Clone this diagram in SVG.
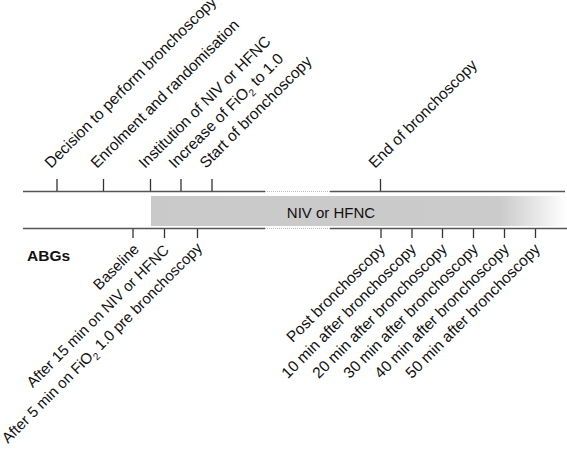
<svg xmlns="http://www.w3.org/2000/svg" width="567" height="453" viewBox="0 0 567 453">
<style>
.lbl{font-family:"Liberation Sans",Arial,sans-serif;font-size:15.5px;fill:#111}
.sm{font-size:15px}
.end{text-anchor:end}
.axis{stroke:#555;stroke-width:1.6;fill:none}
.tick{stroke:#333;stroke-width:1.3}
.gap{stroke:#bbb;stroke-width:1.2;stroke-dasharray:1 1}
.sub{font-size:10px}
</style>
<defs>
<linearGradient id="fade" x1="151" y1="0" x2="567" y2="0" gradientUnits="userSpaceOnUse">
<stop offset="0" stop-color="#c9c9c9"/>
<stop offset="0.84" stop-color="#cbcbcb"/>
<stop offset="1" stop-color="#ffffff"/>
</linearGradient>
</defs>
<rect width="567" height="453" fill="#fff"/>
<g id="bar">
<rect x="151" y="196" width="416" height="30" fill="url(#fade)"/>
<text class="lbl sm" x="331" y="218" text-anchor="middle">NIV or HFNC</text>
</g>
<g id="connectors">
<path class="axis" d="M23 191.5H265M330 191.5H565"/>
<path class="gap" d="M265 191.5H330"/>
<path class="axis" d="M23 228.5H265M330 228.5H567"/>
<path class="gap" d="M265 228.5H330"/>
<path class="tick" d="M57 179V191M103.5 179V191M150.5 179V191M181 179V191M212 179V191M380.5 179V191"/>
<path class="tick" d="M133 229V238M164.5 229V238M197.5 229V238M381 229V238M412 229V238M442.5 229V238M473.5 229V238M504.5 229V238M535.5 229V238"/>
</g>
<g id="top-labels">
<text id="t1" class="lbl" transform="translate(51,169) rotate(-45)">Decision to perform bronchoscopy</text>
<text id="t2" class="lbl" transform="translate(97,169) rotate(-45)">Enrolment and randomisation</text>
<text id="t3" class="lbl" transform="translate(145,169) rotate(-45)">Institution of NIV or HFNC</text>
<text id="t4" class="lbl" transform="translate(175,169) rotate(-45)">Increase of FiO<tspan class="sub" dy="4">2</tspan><tspan dy="-4"> to 1.0</tspan></text>
<text id="t5" class="lbl" transform="translate(206,169) rotate(-45)">Start of bronchoscopy</text>
<text id="t6" class="lbl" transform="translate(375,169) rotate(-45)">End of bronchoscopy</text>
</g>
<g id="abg-labels">
<text id="abgs" class="lbl" x="27" y="261" font-weight="bold" font-size="16">ABGs</text>
<text id="b1" class="lbl sm end" transform="translate(140,250) rotate(-45)">Baseline</text>
<text id="b2" class="lbl sm end" transform="translate(170,251) rotate(-45)">After 15 min on NIV or HFNC</text>
<text id="b3" class="lbl sm end" transform="translate(203,249) rotate(-45)">After 5 min on FiO<tspan class="sub" dy="4">2</tspan><tspan dy="-4"> 1.0 pre bronchoscopy</tspan></text>
<text id="b4" class="lbl end" transform="translate(386,250) rotate(-45)">Post bronchoscopy</text>
<text id="b5" class="lbl end" transform="translate(417,250) rotate(-45)">10 min after bronchoscopy</text>
<text id="b6" class="lbl end" transform="translate(448,250) rotate(-45)">20 min after bronchoscopy</text>
<text id="b7" class="lbl end" transform="translate(479,250) rotate(-45)">30 min after bronchoscopy</text>
<text id="b8" class="lbl end" transform="translate(510,250) rotate(-45)">40 min after bronchoscopy</text>
<text id="b9" class="lbl end" transform="translate(541,250) rotate(-45)">50 min after bronchoscopy</text>
</g>
</svg>
